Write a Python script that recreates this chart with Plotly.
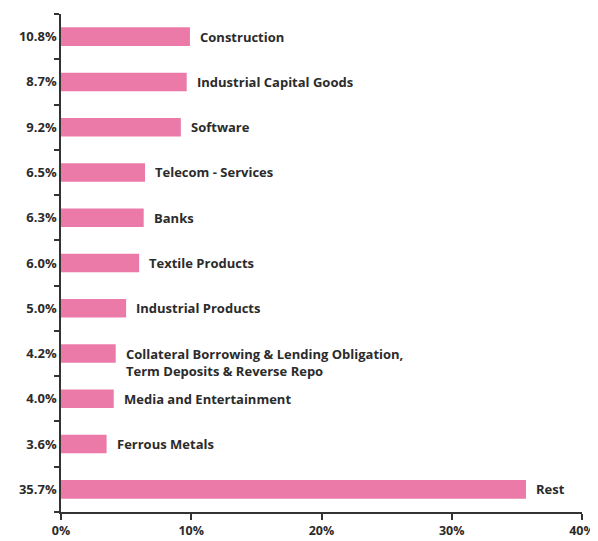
import plotly.graph_objects as go

# sector allocation - bar lengths, tick text as printed
sectors = [
    "Construction",
    "Industrial Capital Goods",
    "Software",
    "Telecom - Services",
    "Banks",
    "Textile Products",
    "Industrial Products",
    "Collateral Borrowing & Lending Obligation,<br>Term Deposits & Reverse Repo",
    "Media and Entertainment",
    "Ferrous Metals",
    "Rest",
]
bar_values = [9.9, 9.65, 9.2, 6.45, 6.35, 6.0, 5.0, 4.2, 4.05, 3.5, 35.7]
weight_labels = ["10.8%", "8.7%", "9.2%", "6.5%", "6.3%", "6.0%",
                 "5.0%", "4.2%", "4.0%", "3.6%", "35.7%"]
x_ticks = [0, 10, 20, 30, 40]
x_tick_text = ["0%", "10%", "20%", "30%", "40%"]

PINK = "#EC7AA9"
INK = "#2B2B2B"
FONT = "Open Sans"
SIZE = 13
LINE_H = SIZE * 1.35

fig = go.Figure(go.Bar(
    x=bar_values,
    y=sectors,
    orientation="h",
    width=0.41,
    marker=dict(color=PINK, line=dict(width=0)),
    hoverinfo="skip",
))

# sector names sit just right of each bar; first line lines up with the bar
for name, val in zip(sectors, bar_values):
    n_lines = name.count("<br>") + 1
    fig.add_annotation(
        x=val, y=name, xref="x", yref="y",
        text=name, showarrow=False,
        xanchor="left", align="left",
        xshift=8, yshift=-(n_lines - 1) * LINE_H / 2,
        font=dict(family=FONT, size=SIZE, color=INK, weight="bold"),
    )

# page body adds an 8px margin, so the figure is sized to fit inside it
fig.update_layout(
    template="none",
    width=590, height=533,
    margin=dict(l=53, r=16, t=6, b=29),
    paper_bgcolor="white", plot_bgcolor="white",
    showlegend=False,
    font=dict(family=FONT, size=SIZE, color=INK, weight="bold"),
)
fig.update_xaxes(
    range=[0, 40], tickvals=x_ticks, ticktext=x_tick_text,
    showgrid=False, zeroline=False,
    showline=True, linecolor="#333333", linewidth=1.5,
    ticks="outside", ticklen=6, tickwidth=1.5, tickcolor="#333333",
    ticklabelstandoff=0, automargin=False,
    tickfont=dict(family=FONT, size=12.5, color=INK, weight="bold"),
)
fig.update_yaxes(
    type="category", categoryorder="array", categoryarray=sectors,
    autorange="reversed",
    tickvals=sectors, ticktext=weight_labels, tickson="boundaries",
    showgrid=False, zeroline=False,
    showline=True, linecolor="#333333", linewidth=1.5,
    ticks="outside", ticklen=5, tickwidth=1.5, tickcolor="#333333",
    automargin=False,
    tickfont=dict(family=FONT, size=SIZE, color=INK, weight="bold"),
)

fig.write_html("out.html")
